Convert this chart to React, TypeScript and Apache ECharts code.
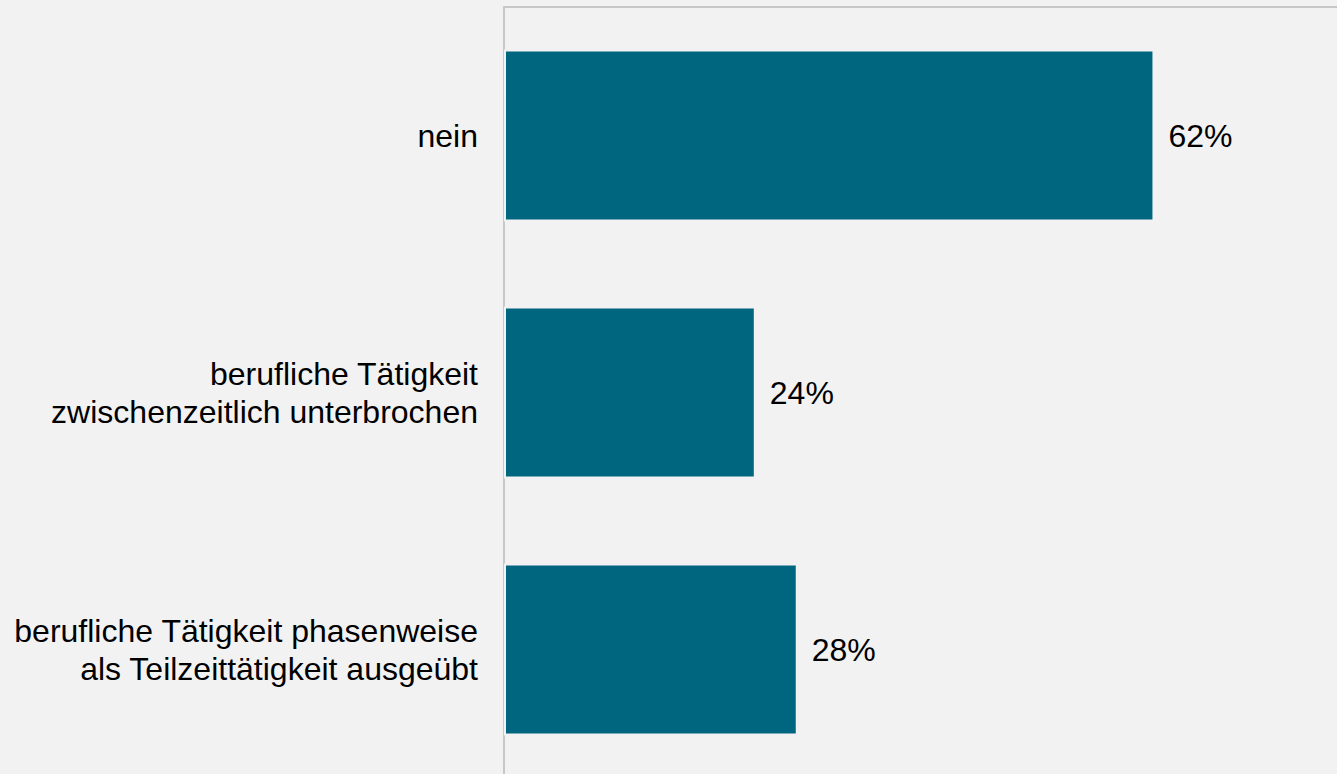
import React, { useEffect, useRef } from "react";
import * as echarts from "echarts";

const categories = [
  "nein",
  "berufliche Tätigkeit\nzwischenzeitlich unterbrochen",
  "berufliche Tätigkeit phasenweise\nals Teilzeittätigkeit ausgeübt",
];
const values = [62, 24, 28];
const axisMax = 79.4;

export default function App() {
  const ref = useRef<HTMLDivElement>(null);
  useEffect(() => {
    if (!ref.current) return;
    const chart = echarts.init(ref.current, undefined, { renderer: "svg" });
    chart.setOption({
      animation: false,
      backgroundColor: "#f2f2f2",
      textStyle: { fontFamily: "Liberation Sans, Arial, sans-serif" },
      grid: { left: 504, top: 7, right: 0, height: 771, containLabel: false },
      xAxis: {
        type: "value",
        min: 0,
        max: axisMax,
        position: "top",
        axisLine: { show: true, lineStyle: { color: "#c8c8c8", width: 2 } },
        axisTick: { show: false },
        axisLabel: { show: false },
        splitLine: { show: false },
      },
      yAxis: {
        type: "category",
        data: categories,
        inverse: true,
        axisLine: { show: true, lineStyle: { color: "#c8c8c8", width: 2 } },
        axisTick: { show: false },
        axisLabel: {
          margin: 26,
          fontSize: 32,
          lineHeight: 38,
          color: "#000",
          align: "right",
          fontFamily: "Liberation Sans, Arial, sans-serif",
        },
      },
      series: [
        {
          type: "bar",
          data: values,
          barWidth: 172,
          itemStyle: { color: "#00667f", borderColor: "#f2f2f2", borderWidth: 2 },
          label: {
            show: true,
            position: "right",
            distance: 14,
            formatter: "{c}%",
            fontSize: 32,
            color: "#000",
            fontFamily: "Liberation Sans, Arial, sans-serif",
          },
        },
      ],
    });
    return () => chart.dispose();
  }, []);
  return (
    <div
      style={{
        position: "absolute",
        left: 0,
        top: 0,
        width: 1337,
        height: 774,
        overflow: "hidden",
        background: "#f2f2f2",
      }}
    >
      <div ref={ref} style={{ width: 1337, height: 790 }} />
    </div>
  );
}
